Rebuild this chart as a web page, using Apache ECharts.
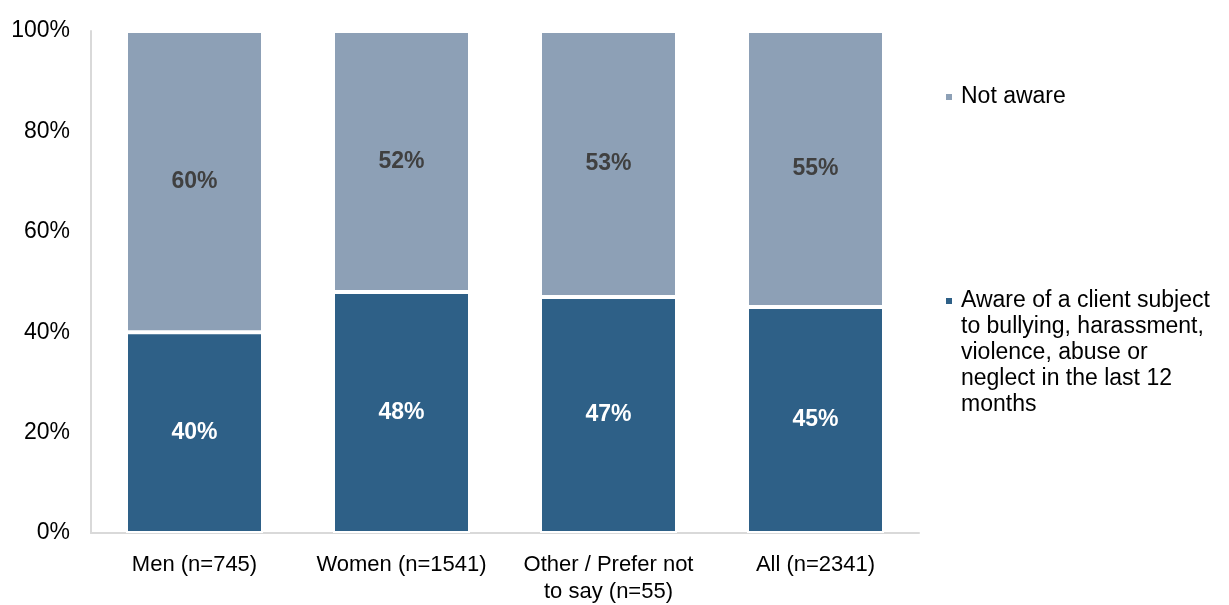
<!DOCTYPE html>
<html>
<head>
<meta charset="utf-8">
<script src="https://cdn.jsdelivr.net/npm/echarts@6/dist/echarts.min.js"></script>
<style>html,body{margin:0;padding:0;background:#fff}#c{width:1229px;height:605px}</style>
</head>
<body>
<div id="c"></div>
<script>
const categories = ['Men (n=745)', 'Women (n=1541)', 'Other / Prefer not\nto say (n=55)', 'All (n=2341)'];
const awareValues = [40, 48, 47, 45];
const notAwareValues = [60, 52, 53, 55];
const yTicks = [0, 20, 40, 60, 80, 100];
const awareName = 'Aware of a client subject to bullying, harassment, violence, abuse or neglect in the last 12 months';
const notAwareName = 'Not aware';

const chart = echarts.init(document.getElementById('c'), null, {renderer: 'canvas'});
const font = 'Arial, "Liberation Sans", sans-serif';
chart.setOption({
  animation: false,
  grid: {left: 91, right: 310, top: 31, bottom: 68},
  legend: [
    {
      data: [notAwareName], left: 938, top: 78, orient: 'vertical',
      icon: 'path://M0,0L0,0M1,9L9,9L9,17L1,17Z M12,26L12,26', itemWidth: 12, itemHeight: 26, itemGap: 6,
      textStyle: {fontSize: 23, fontFamily: font, color: '#000', lineHeight: 26}
    },
    {
      data: [awareName], left: 938, top: 282, orient: 'vertical',
      icon: 'path://M0,0L0,0M1,9L9,9L9,17L1,17Z M12,130L12,130', itemWidth: 12, itemHeight: 130, itemGap: 6,
      formatter: () => 'Aware of a client subject\nto bullying, harassment,\nviolence, abuse or\nneglect in the last 12\nmonths',
      textStyle: {fontSize: 23, fontFamily: font, color: '#000', lineHeight: 26}
    }
  ],
  xAxis: {
    type: 'category', data: categories,
    axisLine: {lineStyle: {color: '#d9d9d9', width: 2}},
    axisTick: {show: false},
    axisLabel: {fontSize: 22, fontFamily: font, color: '#000', margin: 18, lineHeight: 27, interval: 0}
  },
  yAxis: {
    type: 'value', min: 0, max: 100, interval: 20,
    axisLine: {show: true, lineStyle: {color: '#d9d9d9', width: 2}},
    axisTick: {show: false},
    splitLine: {show: false},
    axisLabel: {fontSize: 23, fontFamily: font, color: '#000', margin: 21,
      formatter: v => yTicks.includes(v) ? v + '%' : ''}
  },
  series: [
    {
      name: awareName, type: 'bar', stack: 's', data: awareValues, barWidth: 137,
      itemStyle: {color: '#2E6087', borderColor: '#fff', borderWidth: 2},
      label: {show: true, position: 'inside', formatter: p => p.value + '%', fontSize: 23, fontWeight: 'bold', fontFamily: font, color: '#fff'}
    },
    {
      name: notAwareName, type: 'bar', stack: 's', data: notAwareValues, barWidth: 137,
      itemStyle: {color: '#8DA0B6', borderColor: '#fff', borderWidth: 2},
      label: {show: true, position: 'inside', formatter: p => p.value + '%', fontSize: 23, fontWeight: 'bold', fontFamily: font, color: '#404040'}
    }
  ]
});
</script>
</body>
</html>
